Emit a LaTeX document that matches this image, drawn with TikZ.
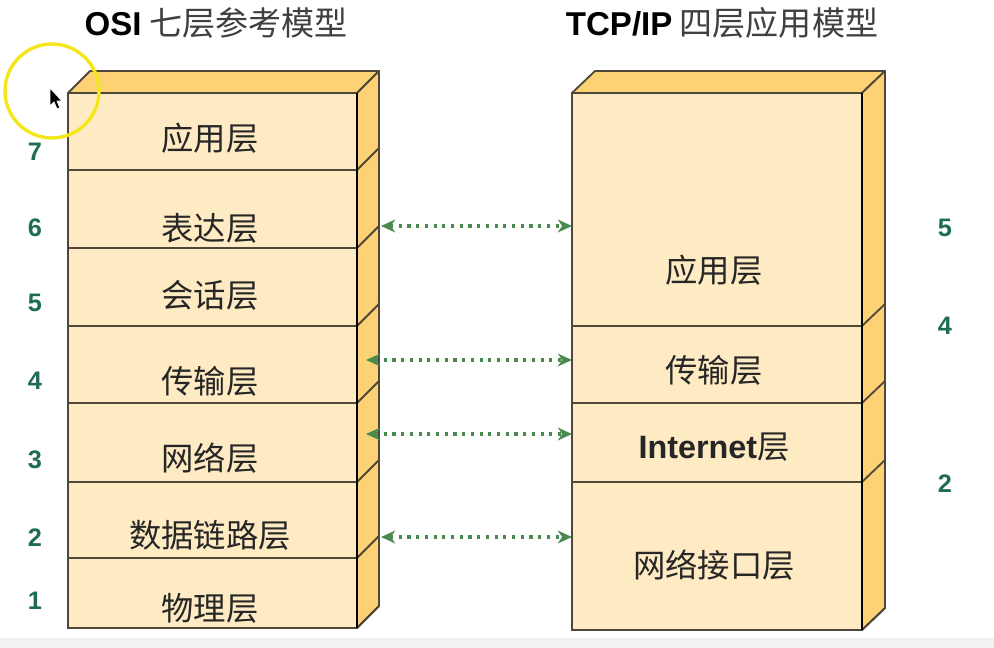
\documentclass[tikz,border=0pt]{standalone}
\usepackage{fontspec}
\setmainfont{Noto Sans CJK SC}
\newfontfamily\latin{Liberation Sans}
\usetikzlibrary{arrows.meta}
\definecolor{frontcol}{HTML}{FEEBC3}
\definecolor{sidecol}{HTML}{FDD274}
\definecolor{edgecol}{HTML}{4F473A}
\definecolor{numcol}{HTML}{1E6B57}
\definecolor{linkcol}{HTML}{4A8A4F}
\definecolor{txtcol}{HTML}{262626}
\definecolor{ringcol}{HTML}{F5E61A}

\begin{document}
\begin{tikzpicture}[
  x=0.025cm,y=-0.025cm,
  front/.style={fill=frontcol,draw=edgecol,line width=1.3pt},
  sideface/.style={fill=sidecol,draw=edgecol,line width=1.3pt,line join=round},
  layertxt/.style={font=\fontsize{23}{25}\selectfont,text=txtcol},
  title/.style={font=\fontsize{23.5}{25}\selectfont,text=black!75},
  num/.style={font=\latin\bfseries\fontsize{18}{20}\selectfont,text=numcol},
  link/.style={draw=linkcol,line width=2.2pt,dash pattern=on 2.2pt off 4pt,
    {Stealth[length=10pt,width=9pt,inset=3pt]}-{Stealth[length=10pt,width=9pt,inset=3pt]}}]

  \useasboundingbox[fill=white] (0,0) rectangle (994,648);
  \fill[black!5] (0,638) rectangle (994,648);

  % titles
  \node[title] (osi-title) at (216,23) {{\latin\bfseries\color{black} OSI} 七层参考模型};
  \node[title] (tcp-title) at (722,23) {{\latin\bfseries\color{black} TCP/IP} 四层应用模型};

  % OSI stack
  \begin{scope}
    \draw[sideface] (68,93) -- (90,71) -- (379,71) -- (357,93) -- cycle;
    \draw[sideface] (357,93) -- (379,71) -- (379,606) -- (357,628) -- cycle;
    \foreach \ya/\yb/\ly/\nm/\txt in {93/170/138/l7/应用层,170/248/228/l6/表达层,
        248/326/295/l5/会话层,326/403/381/l4/传输层,403/482/458/l3/网络层,
        482/558/535/l2/数据链路层,558/628/608/l1/物理层}
    {
      \draw[front] (68,\ya) rectangle (357,\yb);
      \draw[sideface] (357,\yb) -- ++(22,-22);
      \node[layertxt] (osi-\nm) at (210,\ly) {\txt};
    }
    \draw[draw=black,line width=1.6pt] (357,93) -- (357,628);
  \end{scope}

  % TCP/IP stack
  \begin{scope}
    \draw[sideface] (572,93) -- (595,71) -- (885,71) -- (862,93) -- cycle;
    \draw[sideface] (862,93) -- (885,71) -- (885,608) -- (862,630) -- cycle;
    \foreach \ya/\yb/\ly/\nm/\txt in {93/326/270/app/应用层,326/403/370/trans/传输层,
        403/482/447/inet/{{\latin\bfseries Internet}层},482/630/565/link/网络接口层}
    {
      \draw[front] (572,\ya) rectangle (862,\yb);
      \draw[sideface] (862,\yb) -- ++(23,-22);
      \node[layertxt] (tcp-\nm) at (714,\ly) {\txt};
    }
    \draw[draw=black,line width=1.6pt] (862,93) -- (862,630);
  \end{scope}

  % layer numbers
  \foreach \n/\y in {7/152,6/228,5/303,4/381,3/460,2/538,1/601}
    \node[num] (osi-n\n) at (35,\y) {\n};
  \foreach \n/\y in {5/228,4/326,2/484}
    \node[num] (tcp-n\n) at (945,\y) {\n};

  % peer links
  \coordinate (osi-e6) at (381,226);
  \coordinate (osi-e4) at (366,360);
  \coordinate (osi-e3) at (366,434);
  \coordinate (osi-e2) at (381,537);
  \coordinate (tcp-w6) at (572,226);
  \coordinate (tcp-w4) at (572,360);
  \coordinate (tcp-w3) at (572,434);
  \coordinate (tcp-w2) at (572,537);
  \foreach \k in {6,4,3,2}
    \draw[link] (osi-e\k) -- (tcp-w\k);

  % screen cursor
  \draw[ringcol,line width=2.4pt] (52,91) circle[radius=47];
  \draw[fill=black,draw=white,line width=0.6pt,line join=round]
    (50,88) -- (50,106) -- (54,102) -- (57,109) -- (60,108) -- (57,101) -- (62,101) -- cycle;
\end{tikzpicture}
\end{document}
